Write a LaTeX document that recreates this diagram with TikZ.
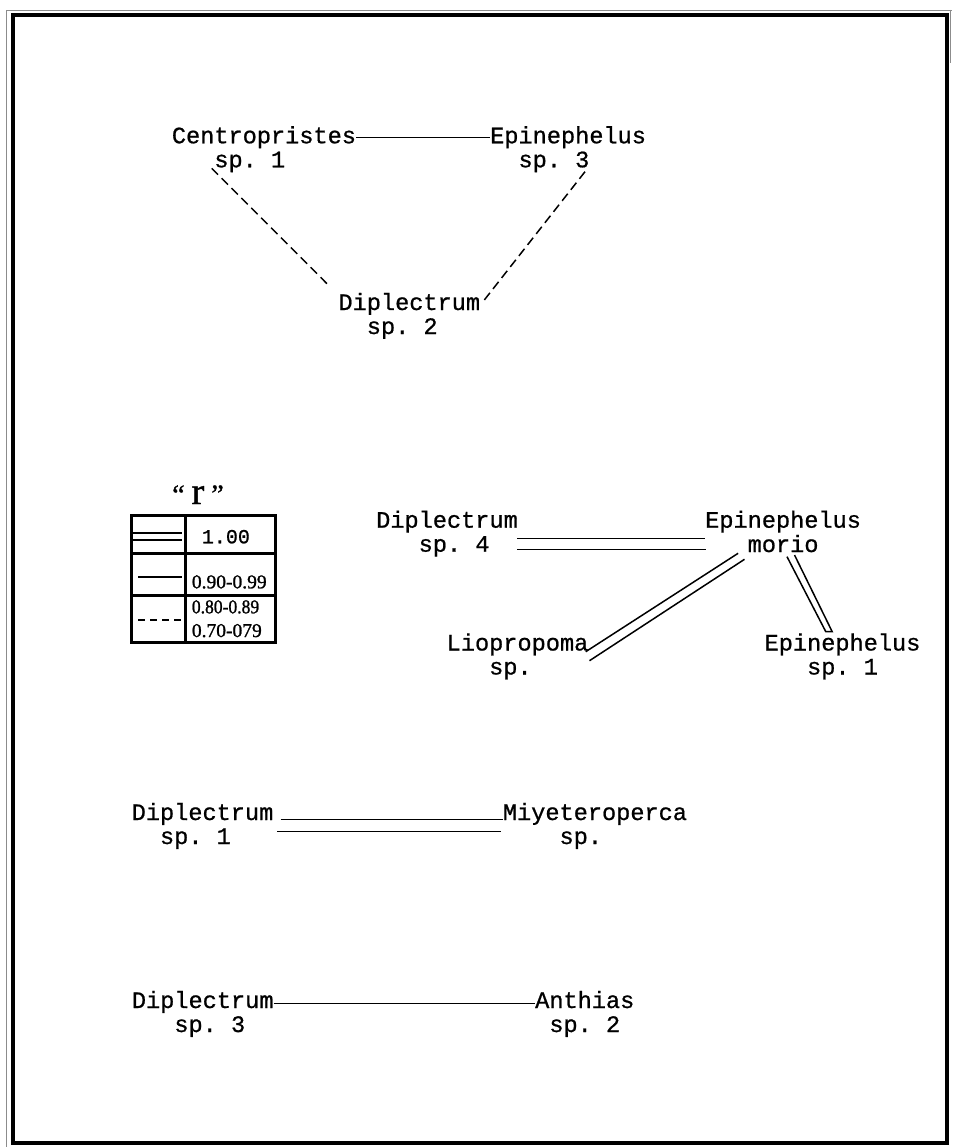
\documentclass[tikz,border=0pt]{standalone}
\usepackage{fontspec}
\setmainfont{Liberation Serif}
\setmonofont{Liberation Mono}[FakeBold=0.8]
\newfontfamily\numfont{Liberation Serif}[FakeBold=1.2]
\usetikzlibrary{calc}
\newcommand\chw{\fontcharwd\font`x}
\newcommand\lab[3]{\begin{tabular}[t]{@{}l@{}}#1\\\hspace*{#2\chw}#3\end{tabular}}
\begin{document}
\begin{tikzpicture}[x=1pt,y=-1pt,
  lbl/.style={anchor=base west, inner sep=0pt, font=\ttfamily\fontsize{23.6pt}{24pt}\selectfont},
  conn/.style={line width=1.5pt, black},
  dashconn/.style={line width=1.5pt, black, dash pattern=on 9pt off 5pt},
  legrule/.style={line width=3pt, black},
  legline/.style={line width=2pt, black},
  legnum/.style={anchor=base west, inner sep=0pt, font=\numfont\fontsize{19.5pt}{20pt}\selectfont},
  legmono/.style={anchor=base west, inner sep=0pt, font=\ttfamily\fontsize{20pt}{20pt}\selectfont}]
\useasboundingbox (0,0) rectangle (952,1147);
\fill[white] (0,0) rectangle (952,1147);
% frame
\draw[line width=0.8pt, black!45] (6,1147) -- (6,10) -- (952,10);
\draw[line width=0.8pt, black!45] (950,10) -- (950,63);
\draw[line width=4pt, black] (13,15) rectangle (947,1143);

% top triangle
\node[lbl] (cen)  at (171.7,143.3) {\lab{Centropristes}{3}{sp. 1}};
\node[lbl] (epi3) at (490,143.3)   {\lab{Epinephelus}{2}{sp. 3}};
\node[lbl] (dip2) at (338.3,310)   {\lab{Diplectrum}{2}{sp. 2}};
\draw[conn] ($(cen.base east)+(0,-6)$) -- ($(epi3.base west)+(0,-6)$);
\coordinate (c1) at (211.7,168.3);
\coordinate (c2) at (330,286.7);
\coordinate (c3) at (585,171.7);
\coordinate (c4) at (481.7,303.3);
\draw[dashconn] (c1) -- (c2);
\draw[dashconn] (c3) -- (c4);

% legend
\node[inner sep=0pt, anchor=base, font=\numfont\fontsize{28pt}{28pt}\selectfont] (rsym) at (198,504)
  {“\hspace{7pt}{\fontsize{38pt}{38pt}\selectfont r}\hspace{7pt}”};
\coordinate (ta) at (131.7,515);
\coordinate (tb) at (275,642);
\draw[legrule] (ta) rectangle (tb);
\draw[legrule] (185.7,515) -- (185.7,642);
\draw[legrule] (131.7,553.3) -- (275,553.3);
\draw[legrule] (131.7,595) -- (275,595);
\draw[legline] (133.3,532.7) -- (181.7,532.7);
\draw[legline] (133.3,540) -- (181.7,540);
\draw[legline] (138,576.7) -- (181.7,576.7);
\draw[legline, dash pattern=on 7pt off 5pt] (138,620) -- (183,620);
\node[legmono] (v1) at (201.7,543.3) {1.00};
\node[legnum] (v2) at (191.7,588.3) {0.90-0.99};
\node[legnum] (v3) at (191.7,613.3) {\scalebox{0.9}[1]{0.80-0.89}};
\node[legnum] (v4) at (191.7,637) {0.70-079};

% middle group
\node[lbl] (dip4)  at (376,527.7)   {\lab{Diplectrum}{3}{sp. 4}};
\node[lbl] (morio) at (705,527.7)   {\lab{Epinephelus}{3}{morio}};
\node[lbl] (lio)   at (446.5,650.5) {\lab{Liopropoma}{3}{sp.}};
\node[lbl] (epi1)  at (764.4,650.5) {\lab{Epinephelus}{3}{sp. 1}};
\draw[conn] ($(dip4.base east)+(-1,10.6)$) -- ($(morio.base west)+(0,10.6)$);
\draw[conn] ($(dip4.base east)+(-1,21.6)$) -- ($(morio.base west)+(1,21.6)$);
\coordinate (l1a) at (738.1,553.3);
\coordinate (l1b) at (585.7,651.7);
\coordinate (l2a) at (744.5,559.3);
\coordinate (l2b) at (589.5,660.7);
\draw[conn] (l1a) -- (l1b);
\draw[conn] (l2a) -- (l2b);
\coordinate (e1a) at (787,556.7);
\coordinate (e1b) at (825.8,631.7);
\coordinate (e2a) at (794.5,555);
\coordinate (e2b) at (832.2,631.7);
\draw[conn] (e1a) -- (e1b) -- (e2b) -- (e2a);

% Diplectrum sp.1 -- Miyeteroperca
\node[lbl] (dip1) at (131.5,820) {\lab{Diplectrum}{2}{sp. 1}};
\node[lbl] (miy)  at (502.7,820) {\lab{Miyeteroperca}{4}{sp.}};
\draw[conn] ($(dip1.base east)+(7,-0.7)$) -- ($(miy.base west)+(0,-0.7)$);
\draw[conn] ($(dip1.base east)+(3.5,11.7)$) -- ($(miy.base west)+(-2,11.7)$);

% Diplectrum sp.3 -- Anthias
\node[lbl] (dip3) at (131.7,1008) {\lab{Diplectrum}{3}{sp. 3}};
\node[lbl] (anth) at (535,1008)   {\lab{Anthias}{1}{sp. 2}};
\draw[conn] ($(dip3.base east)+(0,-4.5)$) -- ($(anth.base west)+(0,-4.5)$);
\end{tikzpicture}
\end{document}
